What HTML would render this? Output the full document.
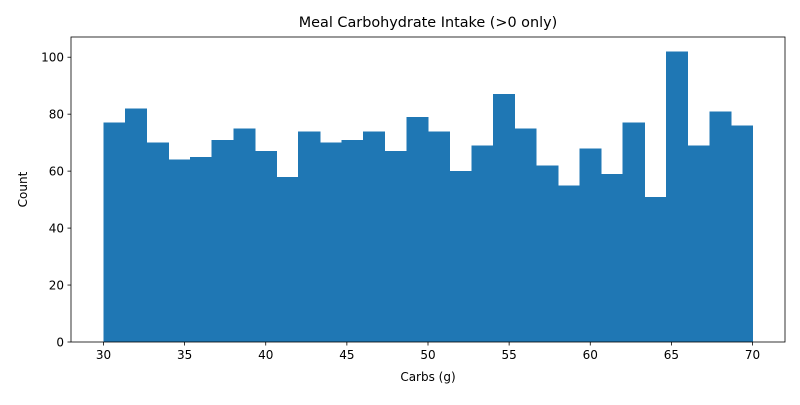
<!DOCTYPE html>
<html><head><meta charset="utf-8"><style>
body{margin:0;background:#fff;font-family:"Liberation Sans","DejaVu Sans",sans-serif;}
svg text{font-family:"DejaVu Sans","Liberation Sans",sans-serif;}
</style></head><body>
<svg id="chart" width="800" height="400" xmlns="http://www.w3.org/2000/svg"></svg>
<script>
const binStart = 30;
const binEnd = 70;
const counts = [77,82,70,64,65,71,75,67,58,74,70,71,74,67,79,74,60,69,87,75,62,55,68,59,77,51,102,69,81,76];
const xTicks = [30,35,40,45,50,55,60,65,70];
const yTicks = [0,20,40,60,80,100];

const NS = "http://www.w3.org/2000/svg";
const svg = document.getElementById('chart');
const L = 71, R = 785, T = 37, B = 342;
const xMin = binStart - (binEnd - binStart) * 0.05, xMax = binEnd + (binEnd - binStart) * 0.05;
const yMax = Math.max(...counts) * 1.05;
const xs = v => L + (v - xMin) / (xMax - xMin) * (R - L);
const ys = v => B - v / yMax * (B - T);
function mk(tag, attrs, parent) {
  const e = document.createElementNS(NS, tag);
  for (const k in attrs) e.setAttribute(k, attrs[k]);
  (parent || svg).appendChild(e);
  return e;
}
const w = (binEnd - binStart) / counts.length;
const bars = mk('g', {'shape-rendering': 'crispEdges'});


counts.forEach((c, i) => {
  const x0 = xs(binStart + i * w), x1 = xs(binStart + (i + 1) * w);
  const r = mk('rect', {x: x0, y: ys(c), width: x1 - x0 + 0.5, height: B - ys(c), fill: '#1f77b4'}, bars);
  
  
});
const frame = mk('rect', {x: L, y: T, width: R - L, height: B - T, fill: 'none', stroke: '#000', 'stroke-width': 0.8});


xTicks.forEach(t => {
  const x = xs(t);
  mk('line', {x1: x, x2: x, y1: B, y2: B + 3.5, stroke: '#000', 'stroke-width': 0.8});
  const tx = mk('text', {x: x, y: B + 17, 'text-anchor': 'middle', 'font-size': 12, fill: '#000'});
  tx.textContent = t;
  
  
});
yTicks.forEach(t => {
  const y = ys(t);
  mk('line', {x1: L - 3.5, x2: L, y1: y, y2: y, stroke: '#000', 'stroke-width': 0.8});
  const tx = mk('text', {x: L - 7, y: y + 4.5, 'text-anchor': 'end', 'font-size': 12, fill: '#000'});
  tx.textContent = t;
  
  
});
const title = mk('text', {x: (L + R) / 2, y: 27, 'text-anchor': 'middle', 'font-size': 14.4, fill: '#000'});
title.textContent = 'Meal Carbohydrate Intake (>0 only)';


const xl = mk('text', {x: (L + R) / 2, y: 381, 'text-anchor': 'middle', 'font-size': 12, fill: '#000'});
xl.textContent = 'Carbs (g)';


const yl = mk('text', {x: 27, y: (T + B) / 2, 'text-anchor': 'middle', 'font-size': 12, fill: '#000', transform: 'rotate(-90 27 ' + (T + B) / 2 + ')'});
yl.textContent = 'Count';


</script>
</body></html>
